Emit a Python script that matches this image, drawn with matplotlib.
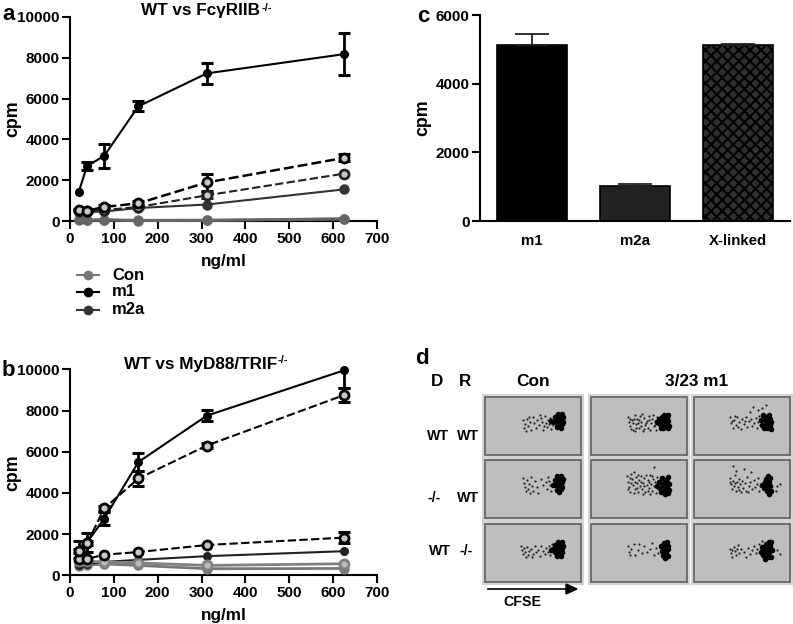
import matplotlib
matplotlib.use("Agg")
import matplotlib.pyplot as plt

plt.rcParams["font.family"] = ["Liberation Sans", "DejaVu Sans"]
plt.rcParams["font.weight"] = "bold"
plt.rcParams["hatch.linewidth"] = 1.5

W, H = 793, 624

doses = [20, 39, 78, 156, 312, 625]

# panel a
a_m1 = [1450, 2700, 3200, 5620, 7230, 8170]
a_m1_err = [0, 200, 600, 250, 500, 1020]
a_m1_ko = [550, 520, 700, 880, 1900, 3100]
a_m1_ko_err = [60, 60, 80, 100, 420, 170]
a_m2a_ko = [500, 500, 550, 700, 1270, 2330]
a_m2a_ko_err = [0, 0, 0, 50, 120, 0]
a_m2a = [500, 450, 480, 650, 820, 1560]
a_con = [60, 50, 60, 30, 40, 130]
a_con_ko = [90, 70, 80, 50, 60, 110]

# panel b
b_m1 = [1250, 1600, 2750, 5500, 7750, 9950]
b_m1_err_up = [400, 450, 300, 450, 280, 0]
b_m1_err_low = [400, 450, 300, 450, 280, 850]
b_m1_ko = [1200, 1550, 3250, 4700, 6300, 8750]
b_m1_ko_err = [100, 100, 120, 350, 100, 350]
b_m2a_ko = [800, 800, 1000, 1130, 1470, 1830]
b_m2a_ko_err = [0, 0, 0, 0, 0, 280]
b_m2a = [500, 550, 650, 750, 930, 1170]
b_con_ko = [700, 680, 650, 600, 480, 560]
b_con = [430, 500, 550, 480, 320, 330]

# panel c
c_labels = ["m1", "m2a", "X-linked"]
c_values = [5120, 1020, 5130]
c_err = [330, 70, 30]

# panel d, dots as (x, y from top), plot is about 100 x 62 px
d_sparse = [
    [(40, 25), (42, 29), (41, 33), (44, 24), (45, 31), (47, 27), (48, 35), (50, 22), (51, 28), (53, 33), (54, 25),
     (56, 30), (58, 23), (59, 27), (60, 35), (62, 21), (63, 28), (64, 32), (65, 25), (66, 29), (67, 23), (68, 34),
     (69, 27), (70, 30), (43, 36), (57, 20), (46, 22), (61, 31)],
    [(39, 22), (40, 27), (41, 31), (43, 25), (44, 35), (46, 20), (47, 29), (48, 24), (50, 33), (51, 21), (52, 27),
     (54, 36), (55, 23), (56, 30), (58, 26), (59, 33), (60, 21), (62, 28), (63, 24), (65, 31), (66, 26), (67, 35),
     (68, 22), (69, 29), (42, 34), (45, 24), (53, 19), (61, 35), (49, 28), (64, 20), (57, 28), (41, 24), (47, 33),
     (44, 28), (52, 31), (60, 25), (66, 30), (50, 25), (46, 36), (55, 34)],
    [(38, 22), (39, 28), (41, 33), (42, 25), (44, 30), (45, 22), (47, 27), (49, 34), (50, 24), (52, 29), (54, 22),
     (55, 32), (57, 26), (59, 24), (60, 31), (62, 28), (64, 23), (65, 33), (66, 27), (68, 30), (61, 12), (70, 13),
     (74, 10), (58, 17), (66, 15), (40, 26), (46, 32), (53, 26), (43, 21), (67, 21)],
    [(40, 20), (41, 25), (42, 29), (44, 22), (45, 31), (46, 26), (48, 19), (49, 28), (50, 33), (52, 23), (54, 29),
     (55, 35), (58, 21), (60, 27), (63, 24), (64, 31), (65, 19), (67, 27), (68, 33), (66, 23), (47, 35), (43, 33)],
    [(38, 18), (39, 24), (40, 29), (41, 34), (43, 21), (44, 27), (45, 14), (46, 31), (47, 19), (48, 25), (49, 34),
     (50, 22), (51, 28), (52, 18), (53, 31), (54, 25), (55, 20), (56, 34), (58, 27), (59, 22), (60, 30), (61, 17),
     (62, 26), (63, 33), (64, 21), (65, 28), (66, 24), (67, 35), (68, 19), (69, 31), (42, 16), (57, 17), (65, 9),
     (39, 31), (46, 24), (52, 24), (59, 33), (68, 25), (42, 25), (49, 17), (55, 28), (63, 18), (45, 35), (41, 20),
     (61, 36), (54, 36), (70, 28), (71, 22), (48, 30), (60, 24)],
    [(38, 20), (39, 26), (40, 31), (41, 23), (42, 28), (43, 17), (44, 33), (45, 24), (46, 29), (47, 21), (48, 26),
     (49, 34), (50, 23), (51, 30), (53, 25), (54, 33), (55, 19), (57, 28), (58, 24), (60, 31), (62, 22), (63, 29),
     (65, 26), (66, 20), (67, 33), (68, 28), (41, 8), (44, 13), (52, 11), (59, 14), (85, 28), (88, 26), (84, 33),
     (38, 24), (43, 25), (47, 32), (56, 34)],
    [(38, 24), (39, 28), (40, 32), (41, 26), (42, 30), (44, 25), (45, 33), (46, 29), (48, 27), (49, 35), (52, 24),
     (53, 30), (55, 28), (57, 34), (58, 24), (60, 29), (62, 32), (63, 26), (65, 30), (66, 24), (67, 33), (68, 27),
     (69, 22), (43, 35), (50, 32)],
    [(39, 24), (40, 30), (42, 27), (45, 22), (46, 33), (49, 28), (50, 22), (53, 31), (55, 24), (58, 30), (61, 27),
     (63, 21), (65, 33), (67, 26), (69, 31), (72, 23), (73, 35), (41, 33)],
    [(38, 27), (39, 31), (40, 35), (42, 25), (43, 29), (44, 33), (46, 23), (47, 31), (49, 27), (52, 30), (54, 35),
     (56, 26), (58, 32), (60, 28), (62, 24), (64, 31), (65, 27), (67, 22), (69, 30), (70, 19), (71, 24), (88, 32),
     (85, 28), (40, 28), (45, 27)],
]
# dense part of each cloud
d_blob = [
    [(72, 22), (73, 27), (74, 32), (75, 19), (75, 24), (76, 29), (77, 21), (77, 26), (78, 33), (79, 19), (79, 24),
     (79, 29), (80, 22), (80, 27), (70, 27), (68, 26)],
    [(70, 24), (71, 29), (72, 33), (73, 22), (74, 27), (74, 33), (75, 20), (76, 25), (76, 31), (78, 23), (78, 28),
     (79, 33), (79, 20), (79, 26), (80, 31), (68, 27)],
    [(69, 25), (70, 30), (71, 20), (72, 33), (73, 25), (74, 30), (75, 22), (75, 33), (76, 27), (77, 20), (78, 30),
     (78, 24), (79, 34), (79, 27)],
    [(72, 22), (73, 27), (74, 32), (74, 18), (75, 24), (76, 29), (76, 34), (77, 21), (77, 26), (78, 18), (78, 31),
     (79, 24), (79, 29), (80, 21), (70, 27)],
    [(70, 24), (71, 30), (72, 34), (73, 20), (74, 26), (75, 32), (76, 22), (76, 28), (76, 36), (78, 24), (78, 30),
     (79, 19), (79, 35), (80, 26), (80, 32), (68, 28)],
    [(70, 27), (72, 30), (73, 24), (74, 21), (75, 27), (75, 33), (76, 18), (76, 30), (77, 24), (77, 36), (78, 20),
     (78, 28), (79, 33), (74, 30)],
    [(70, 27), (72, 23), (72, 30), (74, 26), (74, 34), (75, 20), (76, 30), (77, 23), (77, 27), (78, 34), (79, 20),
     (79, 26), (79, 30), (80, 24), (68, 28)],
    [(72, 24), (73, 29), (74, 33), (75, 21), (75, 27), (76, 36), (77, 24), (77, 31), (78, 20), (79, 27), (79, 34),
     (79, 24)],
    [(69, 30), (70, 25), (71, 33), (72, 27), (73, 37), (74, 22), (74, 30), (75, 26), (76, 35), (77, 20), (77, 30),
     (78, 24), (79, 35), (79, 20), (80, 28)],
]
d_row_donor = ["WT", "-/-", "WT"]
d_row_recipient = ["WT", "WT", "-/-"]

fig = plt.figure(figsize=(W / 100, H / 100), dpi=100)


def axes_px(left, top, right, bottom):
    return fig.add_axes([left / W, 1 - bottom / H, (right - left) / W, (bottom - top) / H])


def text_px(x, y, s, size=10.8, **kw):
    kw.setdefault("ha", "left")
    kw.setdefault("va", "center")
    fig.text(x / W, 1 - y / H, s, fontsize=size, fontweight="bold", **kw)


def style_axes(ax):
    ax.spines["top"].set_visible(False)
    ax.spines["right"].set_visible(False)
    ax.spines["left"].set_linewidth(1.5)
    ax.spines["bottom"].set_linewidth(1.5)
    ax.tick_params(width=1.5, length=5.5, labelsize=11, pad=2)
    ax.set_facecolor("none")


def err_bars(ax, y, up, low, color):
    # own caps, so a point with no error on one side shows no cap there
    for x, v, u, d in zip(doses, y, up, low):
        if u == 0 and d == 0:
            continue
        ax.plot([x, x], [v - d, v + u], color=color, lw=2, clip_on=False, zorder=4)
        if u > 0:
            ax.plot(x, v + u, "_", color=color, ms=9, mew=2.2, clip_on=False, zorder=4)
        if d > 0:
            ax.plot(x, v - d, "_", color=color, ms=9, mew=2.2, clip_on=False, zorder=4)


def solid(ax, y, err=None, color="black", lw=1.5, ms=5.5):
    ax.plot(doses, y, "-o", color=color, lw=lw, ms=ms, clip_on=False, zorder=4)
    if err:
        err_bars(ax, y, err, err, color)


def dashed(ax, y, err=None, color="black", lw=1.5, ls="--", face="#c8c8c8"):
    line, = ax.plot(doses, y, "o", ls=ls, color=color, lw=lw, ms=6.5, mfc=face, mew=2, clip_on=False, zorder=5)
    if ls == "--":
        line.set_dashes((4, 1.6))
    if err:
        err_bars(ax, y, err, err, color)


def curve_axes(top, bottom):
    ax = axes_px(70, top, 377, bottom)
    style_axes(ax)
    ax.set_xlim(0, 700)
    ax.set_ylim(0, 10000)
    ax.set_xticks(range(0, 701, 100))
    ax.set_yticks(range(0, 10001, 2000))
    ax.set_xlabel("ng/ml", fontsize=12.3, fontweight="bold", labelpad=6)
    ax.set_ylabel("cpm", fontsize=12.8, fontweight="bold")
    ax.yaxis.set_label_coords(-0.16, 0.5)
    return ax


# a
ax_a = curve_axes(16.7, 221.3)
solid(ax_a, a_con_ko, color="#777777", lw=2, ms=6.5)
solid(ax_a, a_con, color="#666666", lw=2, ms=6.5)
solid(ax_a, a_m2a, color="#333333", ms=6.5)
dashed(ax_a, a_m2a_ko, a_m2a_ko_err, color="#222222")
dashed(ax_a, a_m1_ko, a_m1_ko_err, lw=1.8)
solid(ax_a, a_m1, a_m1_err)
text_px(141, 11, "WT vs FcγRIIB", size=12.3)
text_px(262, 8, "-/-", size=8)
text_px(2, 14, "a", size=16)

legend_rows = [("Con", "#777777", 275), ("m1", "black", 292), ("m2a", "#333333", 310)]
for label, col, y in legend_rows:
    fig.add_artist(plt.Line2D([77 / W, 99 / W], [1 - y / H, 1 - y / H], color=col, lw=1.5))
    fig.add_artist(plt.Line2D([88 / W], [1 - y / H], color=col, marker="o", ms=6))
    text_px(112, y, label, size=12)

# b
ax_b = curve_axes(369.3, 575.3)
solid(ax_b, b_con, color="#777777", lw=2, ms=6.5)
dashed(ax_b, b_con_ko, color="#808080", lw=2, ls="-", face="#bbbbbb")
solid(ax_b, b_m2a, color="#222222")
dashed(ax_b, b_m2a_ko, b_m2a_ko_err)
dashed(ax_b, b_m1_ko, b_m1_ko_err)
solid(ax_b, b_m1, None)
err_bars(ax_b, b_m1, b_m1_err_up, b_m1_err_low, "black")
text_px(124, 364, "WT vs MyD88/TRIF", size=12.3)
text_px(278, 360, "-/-", size=8)
text_px(2, 370, "b", size=16)

# c
ax_c = axes_px(480, 15.3, 790, 221)
style_axes(ax_c)
bars = ax_c.bar(range(3), c_values, width=0.68, color=["black", "#222222", "#2f2f2f"], edgecolor="black", lw=1.2)
bars[2].set_hatch("xxx")
ax_c.errorbar(range(3), c_values, yerr=[[0, 0, 0], c_err], fmt="none", ecolor="#222222", elinewidth=1.3,
              capsize=12.5, capthick=1.3)
ax_c.set_xlim(-0.5, 2.5)
ax_c.set_ylim(0, 6000)
ax_c.set_yticks(range(0, 6001, 2000))
ax_c.set_xticks(range(3))
ax_c.set_xticklabels(c_labels, fontsize=10.8)
ax_c.tick_params(axis="x", length=0, pad=9)
ax_c.set_ylabel("cpm", fontsize=12.8, fontweight="bold")
ax_c.yaxis.set_label_coords(-0.158, 0.5)
text_px(417, 16, "c", size=16)

# d
col_lefts = [483, 589, 692]
row_tops = [395, 458, 522]
for i in range(9):
    left = col_lefts[i % 3]
    top = row_tops[i // 3]
    ax = axes_px(left, top, left + 100, top + 62)
    ax.set_xlim(0, 100)
    ax.set_ylim(62, 0)
    ax.set_xticks([])
    ax.set_yticks([])
    ax.set_facecolor("#bebebe")
    for spine in ax.spines.values():
        spine.set_edgecolor("#d4d4d4")
        spine.set_linewidth(1.5)
    ax.add_patch(plt.Rectangle((2, 2), 96, 58, fc="none", ec="#5f5f5f", lw=1.2))
    sx, sy = zip(*d_sparse[i])
    ax.scatter(sx, sy, s=2.5, color="#222222", lw=0)
    bx, by = zip(*d_blob[i])
    ax.scatter(bx, by, s=16, color="black", lw=0)

text_px(415, 358, "d", size=16)
text_px(437, 382, "D", size=12.3, ha="center")
text_px(465, 382, "R", size=12.3, ha="center")
text_px(533, 382, "Con", size=12.5, ha="center")
text_px(697, 382, "3/23 m1", size=12.3, ha="center")
for donor, recipient, y, x1, x2 in zip(d_row_donor, d_row_recipient, [436, 498, 551], [427, 427, 429], [457, 457, 459]):
    text_px(x1, y, donor, size=10.2)
    text_px(x2, y, recipient, size=10.2)
fig.add_artist(plt.Line2D([488 / W, 568 / W], [1 - 589 / H, 1 - 589 / H], color="black", lw=1.2))
fig.add_artist(plt.Polygon([[566 / W, 1 - 584 / H], [577 / W, 1 - 589 / H], [566 / W, 1 - 594 / H]], color="black"))
text_px(522, 602, "CFSE", size=10.2, ha="center")

fig.savefig("out.png", dpi=100)
